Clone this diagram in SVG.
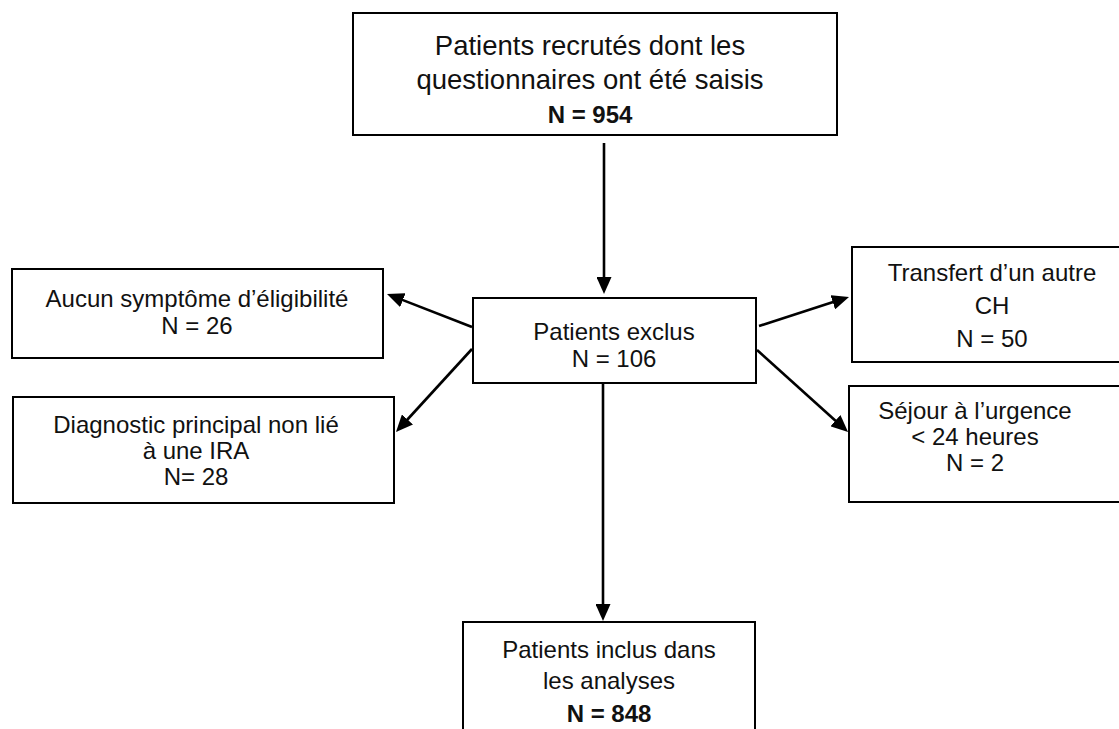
<svg xmlns="http://www.w3.org/2000/svg" width="1119" height="729" viewBox="0 0 1119 729">
  <style>
    .box { fill: #ffffff; stroke: #000000; stroke-width: 2; }
    .lbl { font-family: "Liberation Sans", Arial, sans-serif; font-size: 24px; fill: #111111; text-anchor: middle; }
    .big { font-size: 27.5px; }
    .b { font-weight: bold; }
    .arr { stroke: #000000; stroke-width: 2.6; fill: none; marker-end: url(#ah); }
  </style>
  <defs>
    <marker id="ah" markerUnits="userSpaceOnUse" markerWidth="17" markerHeight="15" refX="2" refY="7.5" orient="auto">
      <path d="M0,0 L17,7.5 L0,15 z" fill="#000000"/>
    </marker>
  </defs>
  <rect width="1119" height="729" fill="#ffffff"/>

  <g id="connectors">
    <line class="arr" x1="604" y1="143" x2="604" y2="279"/>
    <line class="arr" x1="603" y1="383" x2="603" y2="606"/>
    <line class="arr" x1="472" y1="327" x2="401" y2="299.4"/>
    <line class="arr" x1="472" y1="349" x2="406.1" y2="421"/>
    <line class="arr" x1="759" y1="326" x2="834.7" y2="301.6"/>
    <line class="arr" x1="757" y1="350" x2="836.9" y2="422"/>
  </g>

  <g id="node-recruited">
    <rect class="box" x="353" y="13" width="484" height="122"/>
    <text class="lbl big" x="590" y="55">Patients recrutés dont les</text>
    <text class="lbl big" x="590" y="89">questionnaires ont été saisis</text>
    <text class="lbl b" x="590" y="123">N = 954</text>
  </g>

  <g id="node-excluded">
    <rect class="box" x="473" y="298" width="283" height="85"/>
    <text class="lbl" x="614" y="340">Patients exclus</text>
    <text class="lbl" x="614" y="367">N = 106</text>
  </g>

  <g id="node-no-symptom">
    <rect class="box" x="12" y="269" width="371" height="89"/>
    <text class="lbl" x="197" y="307">Aucun symptôme d’éligibilité</text>
    <text class="lbl" x="197" y="334">N = 26</text>
  </g>

  <g id="node-diagnostic">
    <rect class="box" x="13" y="397" width="381" height="106"/>
    <text class="lbl" x="196" y="433">Diagnostic principal non lié</text>
    <text class="lbl" x="196" y="459">à une IRA</text>
    <text class="lbl" x="196" y="485">N= 28</text>
  </g>

  <g id="node-transfer">
    <rect class="box" x="852" y="247" width="280" height="115"/>
    <text class="lbl" x="992" y="281">Transfert d’un autre</text>
    <text class="lbl" x="992" y="314">CH</text>
    <text class="lbl" x="992" y="347">N = 50</text>
  </g>

  <g id="node-stay">
    <rect class="box" x="849" y="386" width="283" height="116"/>
    <text class="lbl" x="975" y="419">Séjour à l’urgence</text>
    <text class="lbl" x="975" y="445">&lt; 24 heures</text>
    <text class="lbl" x="975" y="471">N = 2</text>
  </g>

  <g id="node-included">
    <rect class="box" x="463" y="622" width="292" height="120"/>
    <text class="lbl" x="609" y="658">Patients inclus dans</text>
    <text class="lbl" x="609" y="689">les analyses</text>
    <text class="lbl b" x="609" y="722">N = 848</text>
  </g>
</svg>
